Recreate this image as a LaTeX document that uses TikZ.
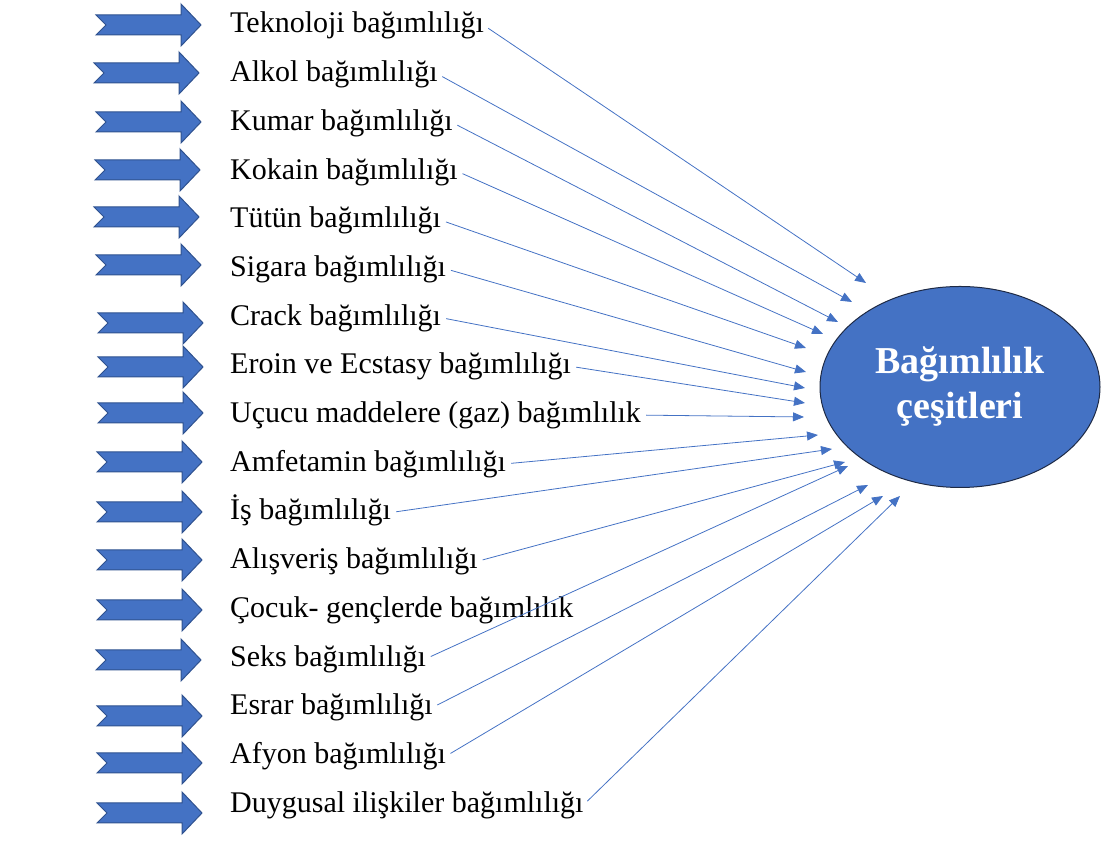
\documentclass[tikz,border=0pt]{standalone}
\usepackage{fontspec}
\setmainfont{Liberation Serif}
\usetikzlibrary{shapes.geometric,arrows.meta}

\definecolor{officeblue}{HTML}{4472C4}
\definecolor{arrowline}{HTML}{2F528F}
\definecolor{ovalline}{HTML}{1E2A45}

\tikzset{
  bigarrow/.style = {fill = officeblue, draw = arrowline, line width = 1pt},
  kind/.style = {anchor = base west, inner sep = 0pt, text height = 22pt, text depth = 7pt, font = \fontsize{30}{34}\selectfont},
  link/.style = {draw = officeblue, line width = 0.8pt, -{Triangle[length = 11pt, width = 9pt]}, shorten < = 5pt},
}

\begin{document}
\begin{tikzpicture}[x = 1pt, y = 1pt]
\useasboundingbox (0,0) rectangle (1101,850);

\foreach \xx/\yy in {96/825, 94/777, 96/728, 95/680, 94/633, 96/585, 98/527, 98/483, 98/437, 97/388, 97/338, 97/290, 97/240, 96/190, 97/134, 97/87, 97/37}
  \draw[bigarrow] (\xx,\yy+10) -- ++(85,0) -- ++(0,11) -- ++(20,-21) -- ++(-20,-21) -- ++(0,11) -- ++(-85,0) -- ++(10,10) -- cycle;

\foreach \lbl [count = \i] in {Teknoloji bağımlılığı, Alkol bağımlılığı, Kumar bağımlılığı, Kokain bağımlılığı, Tütün bağımlılığı, Sigara bağımlılığı, Crack bağımlılığı, Eroin ve Ecstasy bağımlılığı, Uçucu maddelere (gaz) bağımlılık, Amfetamin bağımlılığı, İş bağımlılığı, Alışveriş bağımlılığı, Çocuk- gençlerde bağımlılık, Seks bağımlılığı, Esrar bağımlılığı, Afyon bağımlılığı, Duygusal ilişkiler bağımlılığı}
  \node[kind] (k\i) at (230, {865.7 - 48.7*\i}) {\lbl};

\node[ellipse, fill = officeblue, draw = ovalline, line width = 1pt, minimum width = 280pt, minimum height = 201pt, text = white, align = center, font = \bfseries\fontsize{38}{47}\selectfont] (bag) at (960,463) {Bağımlılık\\[-2pt]çeşitleri};

\foreach \i/\ex/\ey in {1/866/567, 2/852/548, 3/838/528, 4/823/516, 5/806/502, 6/806/478, 7/805/462, 8/805/447, 9/804/433, 10/818/415, 11/832/401, 12/845/388, 14/848/384, 15/868/365, 16/883/354, 17/900/354} {
  \coordinate (e\i) at (\ex,\ey);
  \draw[link] (k\i.east) -- (e\i);
}
\end{tikzpicture}
\end{document}
